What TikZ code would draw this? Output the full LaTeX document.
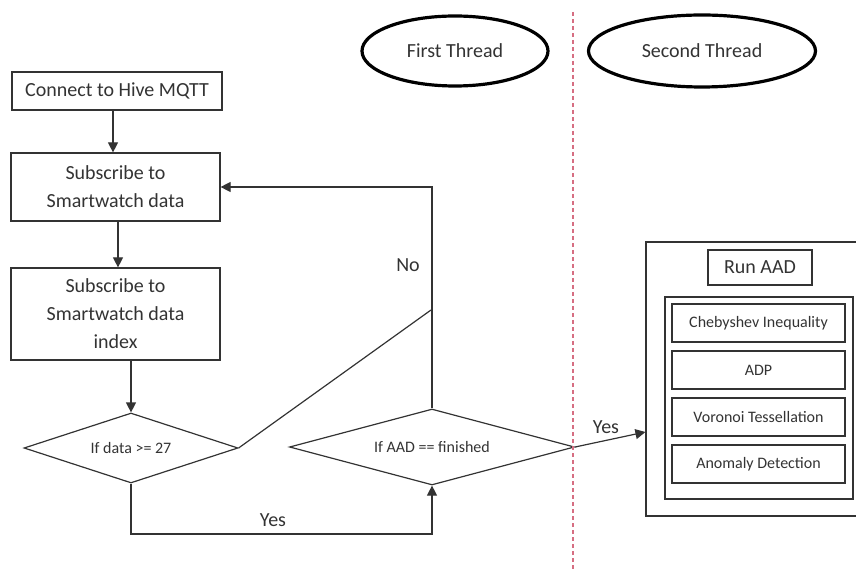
\documentclass[tikz,border=0pt]{standalone}
\usepackage{fontspec}
\setmainfont{Carlito}
\usetikzlibrary{shapes.geometric,arrows.meta}
\definecolor{threadsep}{RGB}{214,110,130}

\begin{document}
\begin{tikzpicture}[x=0.5pt,y=-0.5pt,
        every node/.style={text=black!80,font=\fontsize{10}{14}\selectfont},
        box/.style={draw=black!80,line width=0.6pt,align=center,inner sep=1pt},
        cond/.style={draw=black!80,line width=0.6pt,diamond,shape aspect=3,inner sep=0pt,font=\fontsize{8}{10}\selectfont},
        thread/.style={draw=black,line width=1.6pt,ellipse,inner sep=0pt},
        flow/.style={draw=black!80,line width=0.6pt,-{Triangle[length=5pt,width=5pt]}}]
        \useasboundingbox (0,0) rectangle (856,571);
        \clip (0,0) rectangle (856,571);
        % first thread
        \node[box,minimum width=105pt,minimum height=19pt] (connect) at (117,91) {Connect to Hive MQTT};
        \node[box,minimum width=104.5pt,minimum height=34pt] (subdata) at (115.5,187) {Subscribe to\\Smartwatch data};
        \node[box,minimum width=104.5pt,minimum height=46pt] (subidx) at (115.5,314) {Subscribe to\\Smartwatch data\\index};
        \node[cond,minimum width=107pt,minimum height=35pt] (dataq) at (131,448) {If data >= 27};
        \node[cond,minimum width=142.5pt,minimum height=38pt] (aadq) at (432,447) {If AAD == finished};
        \coordinate (join) at (431,310);
        \draw[flow] (connect.south -| 113,0) -- (subdata.north -| 113,0);
        \draw[flow] (subdata.south -| 118,0) -- (subidx.north -| 118,0);
        \draw[flow] (subidx.south -| dataq.north) -- (dataq.north);
        \draw[flow] (aadq.north) |- (subdata.east);
        \draw[black!80,line width=0.6pt] (dataq.east) -- (join);
        \draw[flow] (dataq.south) -- (dataq.south |- 0,534) -| (aadq.south);
        \node (no) at (408,265) {No};
        \node (yesa) at (273,520) {Yes};
        % threads
        \node[thread,minimum width=93pt,minimum height=35pt] (first) at (455,51) {First Thread};
        \node[thread,minimum width=113.5pt,minimum height=36pt] (second) at (702,51) {Second Thread};
        \draw[threadsep,line width=0.6pt,dash pattern=on 2pt off 1.5pt] (573,12) -- (573,571);
        % second thread
        \node[box,minimum width=114pt,minimum height=137pt] (outer) at (760,379) {};
        \node[box,minimum width=52pt,minimum height=17.5pt] (run) at (760,267.5) {Run AAD};
        \node[box,minimum width=94pt,minimum height=101pt] (inner) at (759,398) {};
        \foreach \name/\txt/\y in {cheb/Chebyshev Inequality/323,adp/ADP/370,voro/Voronoi Tessellation/417,anom/Anomaly Detection/464}
            \node[box,minimum width=86.5pt,minimum height=19pt,font=\fontsize{8}{10}\selectfont] (\name) at (758.5,\y) {\txt};
        \draw[flow] (aadq.east) -- (outer.west |- 0,432);
        \node (yesb) at (606,427) {Yes};
    \end{tikzpicture}
\end{document}
